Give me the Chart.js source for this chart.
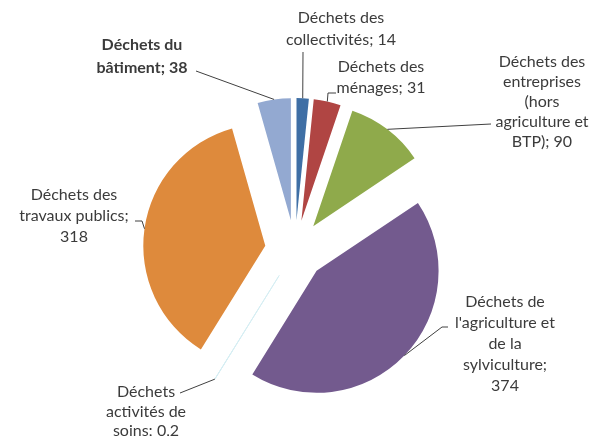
<!DOCTYPE html>
<html>
<head>
<meta charset="utf-8">
<script src="https://cdn.jsdelivr.net/npm/chart.js@4"></script>
<style>
  body { margin: 0; background: #fff; }
</style>
</head>
<body>
<canvas id="chart" width="592" height="436"></canvas>
<script>
const categories = [
  'Déchets des collectivités',
  'Déchets des ménages',
  'Déchets des entreprises (hors agriculture et BTP)',
  "Déchets de l'agriculture et de la sylviculture",
  'Déchets activités de soins',
  'Déchets des travaux publics',
  'Déchets du bâtiment'
];
const values = [14, 31, 90, 374, 0.2, 318, 38];
const labelLines = [
  ['Déchets des', 'collectivités; 14'],
  ['Déchets des', 'ménages; 31'],
  ['Déchets des', 'entreprises', '(hors', 'agriculture et', 'BTP); 90'],
  ['Déchets de', "l'agriculture et", 'de la', 'sylviculture;', '374'],
  ['Déchets', 'activités de', 'soins; 0,2'],
  ['Déchets des', 'travaux publics;', '318'],
  ['Déchets du', 'bâtiment; 38']
];

const colors = ['#3F6FA5', '#B04543', '#8FAA4B', '#735A8E', '#4BACC6', '#DE8A3C', '#93A9D1'];
const borderColors = ['#fff', '#fff', '#fff', '#fff', '#D6EEF3', '#fff', '#fff'];
const borderWidths = [0, 0, 0, 0, 1, 0, 0];

const PIE_RADIUS = 122;
const EXPLODE = 30; // px each slice is pulled out from the centre

// label layout: centre x, first line y, line height, bold, leader elbow points (text side first)
const labelLayout = [
  { x: 341, y: 18, lh: 22, bold: false, leader: [[303, 52]] },
  { x: 381, y: 67, lh: 21, bold: false, leader: [[336, 93], [328, 93]] },
  { x: 542, y: 62, lh: 20, bold: false, leader: [[491, 124]] },
  { x: 505, y: 302, lh: 21, bold: false, leader: [[448, 327], [442, 327]] },
  { x: 146, y: 392, lh: 19.5, bold: false, leader: [[180, 393]] },
  { x: 74, y: 195, lh: 21, bold: false, leader: [[135, 221], [142, 221]] },
  { x: 142, y: 45, lh: 23, bold: true, leader: [[196, 71]] }
];

// pull every slice out along its middle angle (Excel-style explosion)
const explodePlugin = {
  id: 'explode',
  afterDatasetsUpdate(chart) {
    chart.getDatasetMeta(0).data.forEach(arc => {
      const mid = (arc.startAngle + arc.endAngle) / 2;
      arc.x += Math.cos(mid) * EXPLODE;
      arc.y += Math.sin(mid) * EXPLODE;
    });
  }
};

const labelPlugin = {
  id: 'pieLabels',
  afterDatasetsDraw(chart) {
    const ctx = chart.ctx;
    const arcs = chart.getDatasetMeta(0).data;
    ctx.save();
    arcs.forEach((arc, i) => {
      const mid = (arc.startAngle + arc.endAngle) / 2;
      const ex = arc.x + Math.cos(mid) * arc.outerRadius;
      const ey = arc.y + Math.sin(mid) * arc.outerRadius;
      const lay = labelLayout[i];
      ctx.strokeStyle = '#404040';
      ctx.lineWidth = 1;
      ctx.beginPath();
      lay.leader.forEach((pt, k) => k === 0 ? ctx.moveTo(pt[0], pt[1]) : ctx.lineTo(pt[0], pt[1]));
      ctx.lineTo(ex, ey);
      ctx.stroke();

      ctx.fillStyle = '#3b3b3b';
      ctx.font = (lay.bold ? 'bold ' : '') + '16px Lato';
      ctx.textAlign = 'center';
      ctx.textBaseline = 'middle';
      labelLines[i].forEach((t, k) => ctx.fillText(t, lay.x, lay.y + k * lay.lh));
    });
    ctx.restore();
  }
};

new Chart(document.getElementById('chart'), {
  type: 'pie',
  data: {
    labels: categories,
    datasets: [{
      data: values,
      backgroundColor: colors,
      borderColor: borderColors,
      borderWidth: borderWidths,
      radius: PIE_RADIUS
    }]
  },
  options: {
    responsive: false,
    animation: false,
    layout: { padding: { top: 64, bottom: 0, left: 0, right: 2 } },
    plugins: {
      legend: { display: false },
      tooltip: { enabled: false }
    }
  },
  plugins: [explodePlugin, labelPlugin]
});
</script>
</body>
</html>
